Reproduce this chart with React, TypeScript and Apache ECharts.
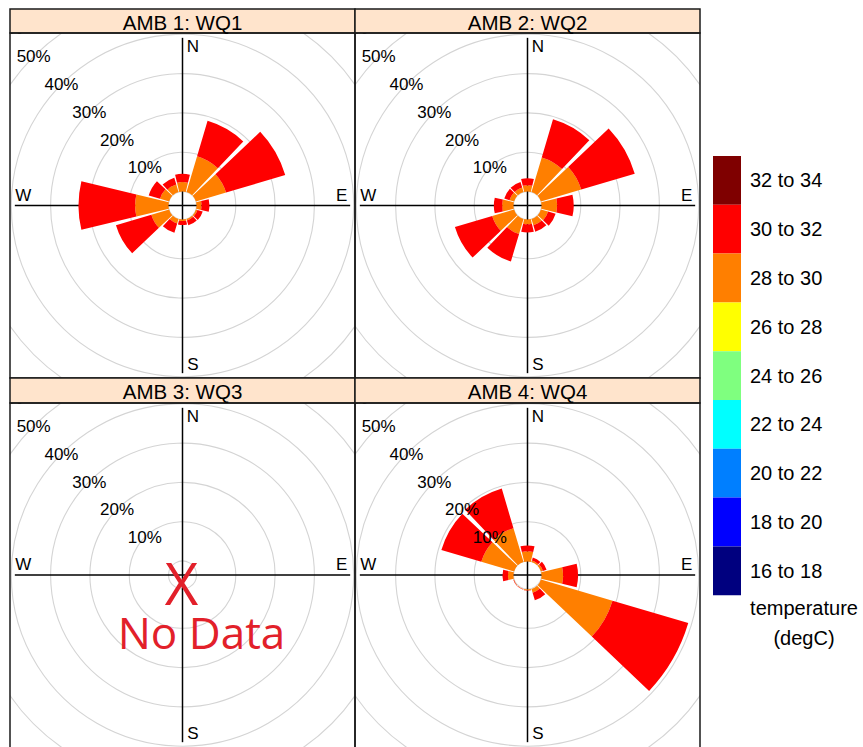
import React, { useEffect, useRef } from "react";
import * as echarts from "echarts";

const FONT = "'Liberation Sans', Arial, sans-serif";
const NOTE_FONT = "'Open Sans', 'Noto Sans', sans-serif";

// wind direction sectors, 0° to 330° every 30°
const directions = ["N", "NNE", "ENE", "E", "ESE", "SSE", "S", "SSW", "WSW", "W", "WNW", "NNW"];
const bandLabels = ["16 to 18", "18 to 20", "20 to 22", "22 to 24", "24 to 26", "26 to 28", "28 to 30", "30 to 32", "32 to 34"];
const bandColors = ["#00007F", "#0000FF", "#007FFF", "#00FFFF", "#7FFF7F", "#FFFF00", "#FF7F00", "#FF0000", "#7F0000"];
const panelTitles = ["AMB 1: WQ1", "AMB 2: WQ2", "AMB 3: WQ3", "AMB 4: WQ4"];
const ringTicks = [0, 10, 20, 30, 40, 50, 60];
const pctTicks = [10, 20, 30, 40, 50, 60];
const pctLabels = ["10%", "20%", "30%", "40%", "50%", "60%"];
const compassLabels = ["N", "E", "S", "W"];
const compassAngles = [0, 90, 180, 270];
const legendTitle = ["temperature", "(degC)"];

// frequency (%) per direction sector
const wq1Band28to30 = [2.4, 9.5, 8.0, 1.3, 0.4, 0.4, 0.4, 1.2, 4.7, 8.5, 2.4, 2.0];
const wq1Band30to32 = [2.1, 9.4, 15.7, 2.0, 1.4, 1.3, 1.0, 2.5, 9.4, 14.4, 3.0, 1.8];
const wq2Band28to30 = [1.6, 9.2, 10.7, 4.0, 1.9, 1.7, 1.2, 4.0, 5.8, 2.9, 1.2, 1.2];
const wq2Band30to32 = [1.8, 10.1, 14.2, 4.2, 2.0, 1.7, 2.1, 7.3, 9.9, 2.1, 1.4, 1.5];
const wq4Band28to30 = [2.6, 0.4, 0.5, 5.5, 19.0, 1.0, 0.2, 0.1, 0.1, 1.4, 8.7, 9.0];
const wq4Band30to32 = [1.5, 0.8, 1.0, 3.8, 20.1, 2.0, 0.1, 0.1, 0.1, 1.4, 10.6, 10.5];

// band index -> values, per panel (null = no data)
const panelData: (Record<number, number[]> | null)[] = [
  { 6: wq1Band28to30, 7: wq1Band30to32 },
  { 6: wq2Band28to30, 7: wq2Band30to32 },
  null,
  { 6: wq4Band28to30, 7: wq4Band30to32 },
];

// layout
const PLOT = 345;
const SCALE = 3.93; // px per 1 %
const HOLE = 14; // px, hole in the middle
const OFFSET = HOLE / SCALE;
const HALF = PLOT / 2 / SCALE;
const RMAX = 60;
const panelBoxes = [
  { x: 10, stripY: 9, stripH: 24, plotY: 33 },
  { x: 355, stripY: 9, stripH: 24, plotY: 33 },
  { x: 10, stripY: 378, stripH: 25, plotY: 403 },
  { x: 355, stripY: 378, stripH: 25, plotY: 403 },
];

function buildOption() {
  let maxFreq = 0;
  panelData.forEach((pd) => {
    if (!pd) return;
    directions.forEach((_, d) => {
      let s = 0;
      Object.keys(pd).forEach((k) => (s += pd[+k][d]));
      maxFreq = Math.max(maxFreq, s);
    });
  });
  const EXTENT = maxFreq + OFFSET;
  const LOFF = 10.5 / SCALE;

  const grid = panelBoxes.map((b) => ({ left: b.x, top: b.plotY, width: PLOT, height: PLOT, show: false }));
  const xAxis = panelBoxes.map((_, i) => ({ type: "value", gridIndex: i, min: -HALF, max: HALF, show: false }));
  const yAxis = panelBoxes.map((_, i) => ({ type: "value", gridIndex: i, min: -HALF, max: HALF, show: false }));

  const polarPanels = [0, 1, 3];
  const polar = polarPanels.map((i) => ({
    center: [panelBoxes[i].x + PLOT / 2, panelBoxes[i].plotY + PLOT / 2],
    radius: [HOLE, HOLE + SCALE * RMAX],
  }));
  const off = { show: false };
  const angleAxis = polarPanels.map((_, k) => ({
    polarIndex: k, type: "category", data: directions, startAngle: 105, clockwise: true,
    axisLine: off, axisTick: off, axisLabel: off, splitLine: off, splitArea: off,
  }));
  const radiusAxis = polarPanels.map((_, k) => ({
    polarIndex: k, type: "value", min: 0, max: RMAX,
    axisLine: off, axisTick: off, axisLabel: off, splitLine: off, splitArea: off,
  }));

  const series: any[] = [];
  panelBoxes.forEach((_, i) => {
    series.push({
      type: "custom", xAxisIndex: i, yAxisIndex: i, clip: true, z: 1, silent: true,
      data: ringTicks.map((v) => [v]),
      renderItem: (params: any, api: any) => {
        const v = api.value(0);
        const c = api.coord([0, 0]);
        const r = api.size([v + OFFSET, 0])[0];
        return { type: "circle", shape: { cx: c[0], cy: c[1], r }, style: { fill: "none", stroke: "#D4D4D4", lineWidth: 1.1 } };
      },
    });
    series.push({
      type: "custom", xAxisIndex: i, yAxisIndex: i, clip: true, z: 1.5, silent: true,
      data: compassAngles.map((a) => [a]),
      renderItem: (params: any, api: any) => {
        const a = (api.value(0) * Math.PI) / 180;
        const sx = Math.sin(a), sy = Math.cos(a);
        const c = api.coord([0, 0]);
        const e = api.coord([EXTENT * sx, EXTENT * sy]);
        const vertical = Math.abs(sy) > 0.5;
        const lp = api.coord([
          0.95 * EXTENT * sx + (vertical ? LOFF : 0),
          0.95 * EXTENT * sy + (vertical ? 0 : LOFF),
        ]);
        return {
          type: "group",
          children: [
            { type: "line", shape: { x1: c[0], y1: c[1], x2: e[0], y2: e[1] }, style: { stroke: "#000", lineWidth: 1.5 } },
            {
              type: "text", x: lp[0], y: lp[1], z2: 5,
              style: { text: compassLabels[params.dataIndex], fill: "#000", fontSize: 17, fontFamily: FONT, align: "center", verticalAlign: "middle" },
            },
          ],
        };
      },
    });
    series.push({
      type: "custom", xAxisIndex: i, yAxisIndex: i, clip: true, z: 3, silent: true,
      data: pctTicks.map((v) => [v]),
      renderItem: (params: any, api: any) => {
        const d = (api.value(0) + OFFSET) * Math.SQRT1_2;
        const p = api.coord([-d, d]);
        return {
          type: "text", x: p[0], y: p[1],
          style: { text: pctLabels[params.dataIndex], fill: "#000", fontSize: 17, fontFamily: FONT, align: "center", verticalAlign: "middle" },
        };
      },
    });
  });

  polarPanels.forEach((pi, k) => {
    const pd = panelData[pi] as Record<number, number[]>;
    bandLabels.forEach((name, b) => {
      series.push({
        type: "bar", name, coordinateSystem: "polar", polarIndex: k, stack: "rose" + k,
        data: pd[b] ? pd[b] : [], barCategoryGap: "10%", z: 2, silent: true,
        itemStyle: { color: bandColors[b], borderWidth: 0 },
      });
    });
  });

  const elements: any[] = [];
  panelBoxes.forEach((b, i) => {
    elements.push({
      type: "rect", z: 100, shape: { x: b.x, y: b.stripY, width: PLOT, height: b.stripH },
      style: { fill: "#FFE4CC", stroke: "#1a1a1a", lineWidth: 1.5 },
    });
    elements.push({
      type: "text", z: 101, x: b.x + PLOT / 2, y: b.stripY + b.stripH / 2 + 1,
      style: { text: panelTitles[i], fill: "#000", fontSize: 20.5, fontFamily: FONT, align: "center", verticalAlign: "middle" },
    });
    elements.push({
      type: "rect", z: 100, shape: { x: b.x, y: b.plotY, width: PLOT, height: PLOT },
      style: { fill: "none", stroke: "#1a1a1a", lineWidth: 1.5 },
    });
  });
  // "no data" note in panel 3 (one text block, two lines)
  elements.push({
    type: "text", z: 101, x: 201.5, y: 607,
    style: {
      text: "{x|X}\n{n|No Data}",
      fill: "#E2202A", fontFamily: NOTE_FONT, align: "center", verticalAlign: "middle",
      rich: {
        x: { fontSize: 58, lineHeight: 50, fill: "#E2202A", fontFamily: NOTE_FONT, padding: [0, 40, 0, 0] },
        n: { fontSize: 44, lineHeight: 50, fill: "#E2202A", fontFamily: NOTE_FONT },
      },
    },
  });
  legendTitle.forEach((t, j) => {
    elements.push({
      type: "text", z: 101, x: 804, y: 608 + j * 30,
      style: { text: t, fill: "#000", fontSize: 20, fontFamily: FONT, align: "center", verticalAlign: "middle" },
    });
  });

  return {
    animation: false,
    backgroundColor: "#fff",
    grid, xAxis, yAxis, polar, angleAxis, radiusAxis, series,
    legend: {
      orient: "vertical", left: 713, top: 156, padding: 0,
      itemWidth: 28, itemHeight: 48.8, itemGap: 0, icon: "rect", selectedMode: false,
      data: [...bandLabels].reverse(),
      textStyle: { fontSize: 20, fontFamily: FONT, color: "#000", padding: [0, 0, 0, 4] },
    },
    graphic: { elements },
  };
}

export default function App() {
  const ref = useRef<HTMLDivElement>(null);
  useEffect(() => {
    if (!ref.current) return;
    const chart = echarts.init(ref.current, undefined, { renderer: "svg" });
    chart.setOption(buildOption() as any);
    return () => chart.dispose();
  }, []);
  return <div ref={ref} style={{ position: "absolute", left: 0, top: 0, width: 863, height: 747 }} />;
}
